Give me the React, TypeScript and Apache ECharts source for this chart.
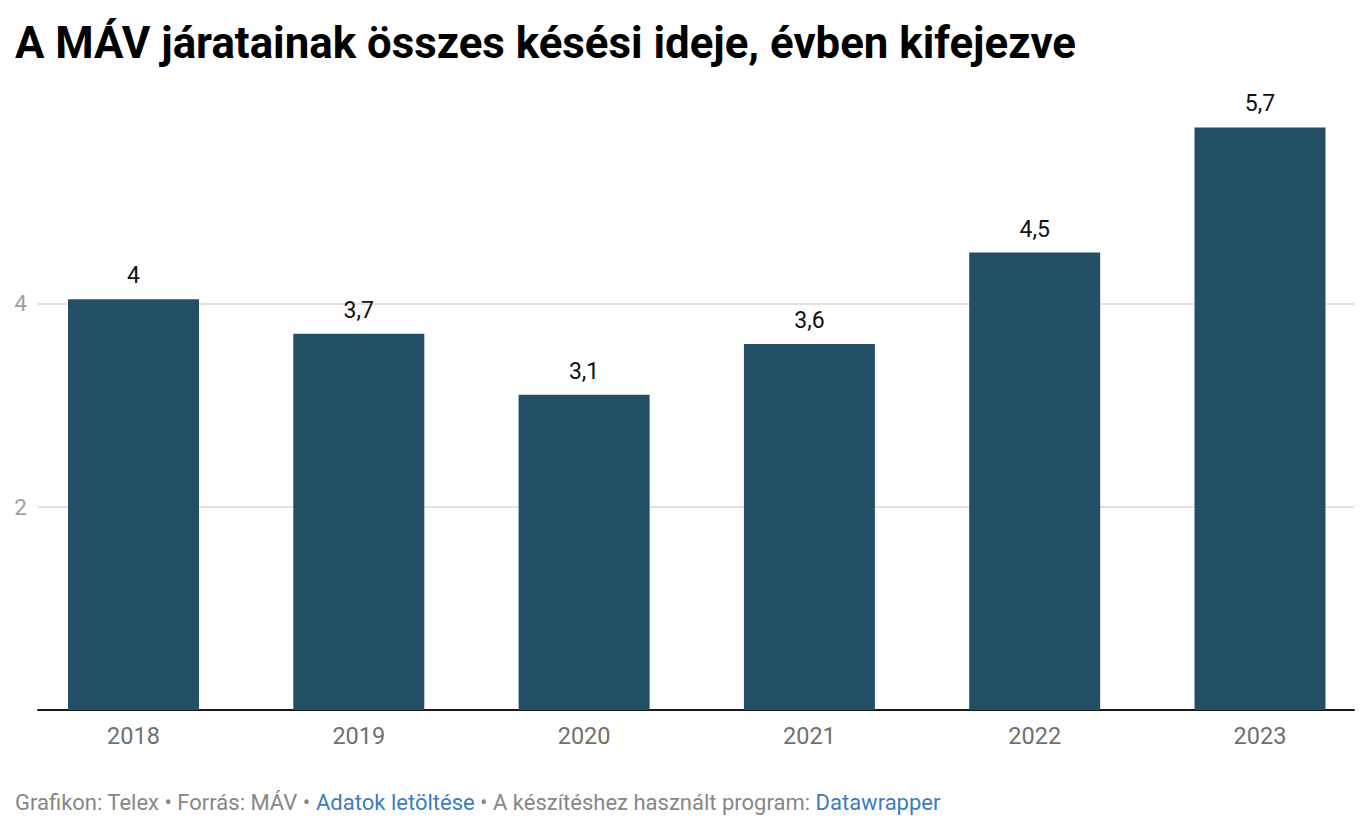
import React, { useEffect, useRef } from "react";
import * as echarts from "echarts";

const TITLE = "A MÁV járatainak összes késési ideje, évben kifejezve";
const years = ["2018", "2019", "2020", "2021", "2022", "2023"];
const delayYears = [4.04, 3.7, 3.1, 3.6, 4.5, 5.73];
const yTicks = [2, 4];
const FONT = "Roboto, 'Noto Sans', sans-serif";

function fmt(v: number): string {
  const r = Math.round(v * 10) / 10;
  return String(r).replace(".", ",");
}

export default function App() {
  const ref = useRef<HTMLDivElement>(null);
  useEffect(() => {
    if (!ref.current) return;
    const chart = echarts.init(ref.current, null, { renderer: "svg" });
    chart.setOption({
      animation: false,
      backgroundColor: "#ffffff",
      title: {
        text: TITLE,
        left: 10,
        top: 16,
        textStyle: { fontFamily: FONT, fontWeight: "bold", fontSize: 43.8, color: "#000000" },
      },
      grid: [
        { left: 38, right: 16, top: 100, bottom: 120 },
        { left: 133.5, right: 110, top: 100, bottom: 120 },
      ],
      xAxis: [
        {
          gridIndex: 0,
          type: "value",
          min: 0,
          max: 1,
          axisLine: { show: true, onZero: false, lineStyle: { color: "#1a1a1a", width: 2 } },
          axisTick: { show: false },
          axisLabel: { show: false },
          splitLine: { show: false },
        },
        {
          gridIndex: 1,
          type: "category",
          data: years,
          boundaryGap: false,
          axisLine: { show: false },
          axisTick: { show: false },
          axisLabel: { color: "#707070", fontSize: 23.5, fontFamily: FONT, margin: 14 },
          splitLine: { show: false },
        },
      ],
      yAxis: [
        {
          gridIndex: 0,
          type: "value",
          min: 0,
          max: 6,
          interval: 2,
          axisLine: { show: false },
          axisTick: { show: false },
          axisLabel: {
            color: "#a0a0a0",
            fontSize: 22.5,
            fontFamily: FONT,
            margin: 11,
            formatter: (v: number) => (yTicks.indexOf(v) >= 0 ? String(v) : ""),
          },
          splitLine: {
            show: true,
            showMinLine: false,
            showMaxLine: false,
            lineStyle: { color: "#e2e2e2", width: 2 },
          },
        },
        {
          gridIndex: 1,
          type: "value",
          min: 0,
          max: 6,
          show: false,
        },
      ],
      series: [
        {
          type: "bar",
          xAxisIndex: 1,
          yAxisIndex: 1,
          data: delayYears,
          barWidth: 131,
          itemStyle: { color: "#234f66" },
          label: {
            show: true,
            position: "top",
            distance: 12,
            color: "#111111",
            fontSize: 23,
            fontFamily: FONT,
            formatter: (p: any) => fmt(p.value),
          },
        },
      ],
      graphic: [
        {
          type: "text",
          left: 15,
          top: 791,
          style: {
            text:
              "{g|Grafikon: Telex • Forrás: MÁV • }{b|Adatok letöltése}{g| • A készítéshez használt program: }{b|Datawrapper}",
            rich: {
              g: { fill: "#878787", fontSize: 22, fontFamily: FONT },
              b: { fill: "#3b7dbf", fontSize: 22, fontFamily: FONT },
            },
          },
        },
      ],
    });
    return () => chart.dispose();
  }, []);
  return (
    <div
      ref={ref}
      style={{ position: "absolute", left: 0, top: 0, width: 1370, height: 830 }}
    />
  );
}
